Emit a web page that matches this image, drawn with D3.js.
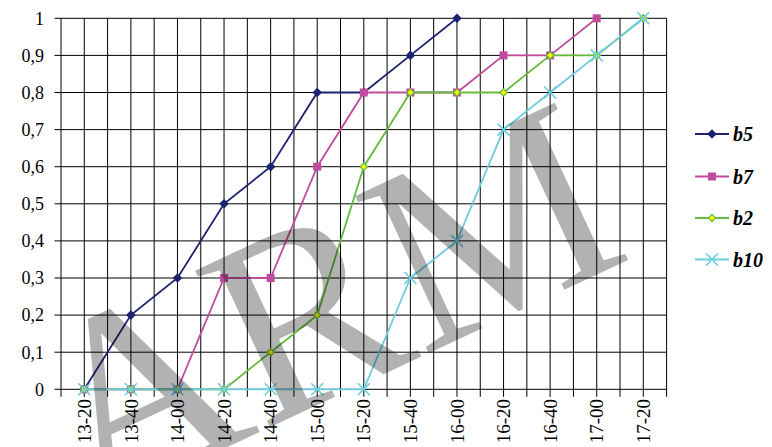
<!DOCTYPE html>
<html>
<head>
<meta charset="utf-8">
<script src="https://cdn.jsdelivr.net/npm/d3@7/dist/d3.min.js"></script>
<style>
  html, body { margin: 0; padding: 0; background: #fff; }
  svg { display: block; }
  svg text { font-family: "Liberation Serif", "Times New Roman", Times, "DejaVu Serif", serif; }
</style>
</head>
<body>
<svg id="chart" width="772" height="447"></svg>
<script>
// Time slots along the horizontal axis
const times = ["13-20", "13-40", "14-00", "14-20", "14-40", "15-00", "15-20",
               "15-40", "16-00", "16-20", "16-40", "17-00", "17-20"];

// Share values per series (null = no observation)
const b5  = [0, 0.2, 0.3, 0.5, 0.6, 0.8, 0.8, 0.9, 1, null, null, null, null];
const b7  = [0, 0, 0, 0.3, 0.3, 0.6, 0.8, 0.8, 0.8, 0.9, 0.9, 1, null];
const b2  = [0, 0, 0, 0, 0.1, 0.2, 0.6, 0.8, 0.8, 0.8, 0.9, 0.9, 1];
const b10 = [0, 0, 0, 0, 0, 0, 0, 0.3, 0.4, 0.7, 0.8, 0.9, 1];

const seriesNames = ["b5", "b7", "b2", "b10"];
const yTicks = [0, 0.1, 0.2, 0.3, 0.4, 0.5, 0.6, 0.7, 0.8, 0.9, 1];

const series = [
  { name: "b5",  values: b5,  color: "#1c2270", marker: "diamond" },
  { name: "b7",  values: b7,  color: "#c04c9f", marker: "square" },
  { name: "b2",  values: b2,  color: "#66bb3c", marker: "smalldiamond" },
  { name: "b10", values: b10, color: "#6ccde0", marker: "cross" }
];

const svg = d3.select("#chart");
const plotLeft = 61, plotRight = 666.6, plotTop = 18.3, plotBottom = 389.3;

const x = d3.scalePoint().domain(times).range([plotLeft, plotRight]).padding(0.5);
const step = x.step();
const y = d3.scaleLinear().domain([0, 1]).range([plotBottom, plotTop]);

const grid = svg.append("g");

// vertical grid: one line at each category and one between neighbours
const vx = [];
for (let k = 0; k <= times.length * 2; k++) vx.push(plotLeft + k * step / 2);
grid.selectAll("line.v").data(vx).enter().append("line")
  .attr("x1", d => d).attr("x2", d => d)
  .attr("y1", plotTop).attr("y2", plotBottom + 7.5)
  .attr("stroke", "#000").attr("stroke-width", 1);

// horizontal grid with tick stubs on the left
grid.selectAll("line.h").data(yTicks).enter().append("line")
  .attr("x1", plotLeft - 6.5).attr("x2", plotRight)
  .attr("y1", d => y(d)).attr("y2", d => y(d))
  .attr("stroke", "#000").attr("stroke-width", 1);

// y labels with decimal commas
const fmt = d => d === 0 ? "0" : d === 1 ? "1" : String(d).replace(".", ",");
svg.append("g").selectAll("text").data(yTicks).enter().append("text")
  .attr("x", 44).attr("y", d => y(d)).attr("dy", "0.35em")
  .attr("text-anchor", "end")
  .attr("font-size", 18)
  .text(fmt);

// x labels, rotated
svg.append("g").selectAll("text").data(times).enter().append("text")
  .attr("transform", d => `translate(${x(d)},399) rotate(-90)`)
  .attr("dy", "0.35em")
  .attr("text-anchor", "end")
  .attr("font-size", 19)
  .text(d => d);

function drawMarker(g, type, color) {
  if (type === "diamond") {
    g.append("path").attr("d", "M0,-4.8L4.8,0L0,4.8L-4.8,0Z").attr("fill", color);
  } else if (type === "square") {
    g.append("rect").attr("x", -4).attr("y", -4).attr("width", 8).attr("height", 8).attr("fill", color);
  } else if (type === "smalldiamond") {
    g.append("path").attr("d", "M0,-3.6L3.6,0L0,3.6L-3.6,0Z")
      .attr("fill", "#ffff00").attr("stroke", color).attr("stroke-width", 1.3);
  } else if (type === "cross") {
    g.append("path").attr("d", "M-6,-6L6,6M-6,6L6,-6")
      .attr("stroke", color).attr("stroke-width", 1.6).attr("fill", "none");
  }
}

const line = d3.line()
  .defined(d => d.v !== null)
  .x(d => x(d.t)).y(d => y(d.v));

series.forEach(s => {
  const pts = times.map((t, i) => ({ t, v: s.values[i] }));
  const g = svg.append("g");
  g.append("path").datum(pts).attr("d", line)
    .attr("fill", "none").attr("stroke", s.color).attr("stroke-width", 1.8);
  pts.filter(p => p.v !== null).forEach(p => {
    const m = g.append("g").attr("transform", `translate(${x(p.t)},${y(p.v)})`);
    drawMarker(m, s.marker, s.color);
  });
});

// legend
const legend = svg.append("g");
series.forEach((s, i) => {
  const ly = [134, 176.5, 218, 259.5][i];
  legend.append("line").attr("x1", 695).attr("x2", 729).attr("y1", ly).attr("y2", ly)
    .attr("stroke", s.color).attr("stroke-width", 1.8);
  drawMarker(legend.append("g").attr("transform", `translate(712,${ly})`), s.marker, s.color);
  legend.append("text").attr("x", 733).attr("y", ly).attr("dy", "0.35em")
    .attr("font-size", 20).attr("font-weight", "bold").attr("font-style", "italic")
    .text(seriesNames[i]);
});

// translucent watermark over the plot
svg.append("text")
  .attr("transform", "translate(88,512) rotate(-25)")
  .attr("font-size", 265)
  .attr("fill", "#000").attr("fill-opacity", 0.3)
  .text("ARM");
</script>
</body>
</html>
